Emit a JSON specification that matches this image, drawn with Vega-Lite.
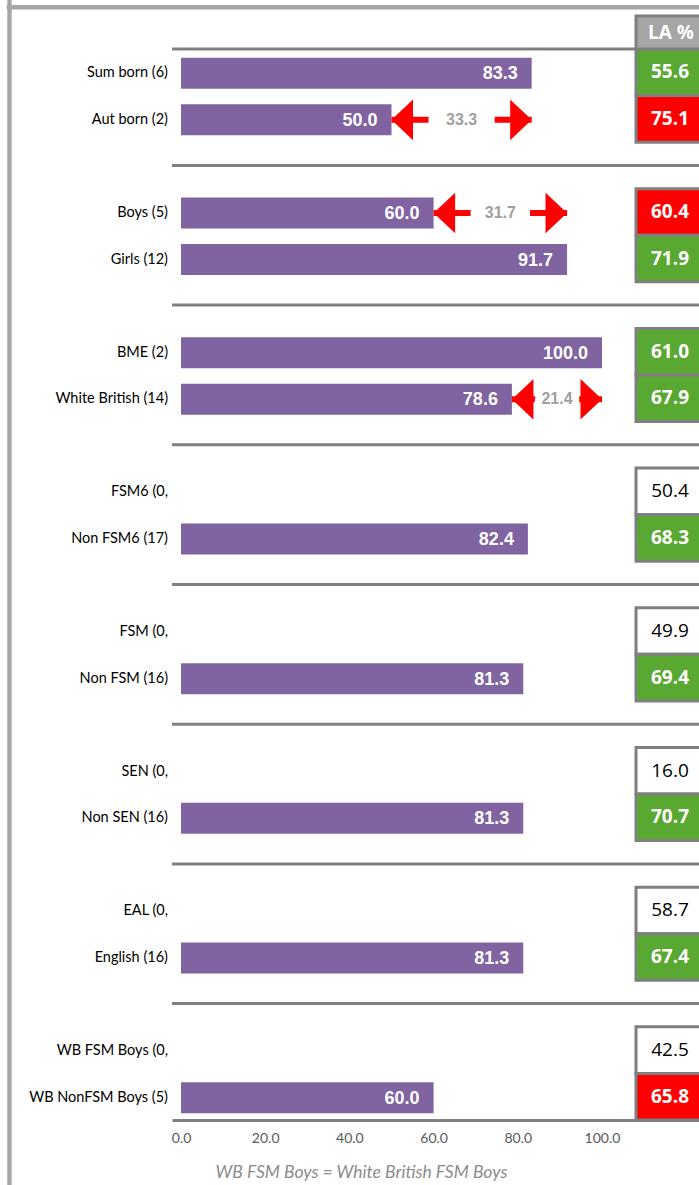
{
"$schema":"https://vega.github.io/schema/vega-lite/v6.json",
"width":527,"height":1071,
"autosize":{"type":"none"},
"padding":{"left":172,"top":49,"right":0,"bottom":65},
"background":"white",
"config":{"view":{"stroke":null},"axis":{"grid":false}},
"resolve":{"axis":{"x":"independent","y":"independent"}},
"datasets":{
"rows":[
{"pos":1,"label":"Sum born (6)","value":83.3,"la":55.6,"vsLA":"above"},
{"pos":2,"label":"Aut born (2)","value":50.0,"la":75.1,"vsLA":"below","gap":33.3,"target":83.3},
{"pos":4,"label":"Boys (5)","value":60.0,"la":60.4,"vsLA":"below","gap":31.7,"target":91.7},
{"pos":5,"label":"Girls (12)","value":91.7,"la":71.9,"vsLA":"above"},
{"pos":7,"label":"BME (2)","value":100.0,"la":61.0,"vsLA":"above"},
{"pos":8,"label":"White British (14)","value":78.6,"la":67.9,"vsLA":"above","gap":21.4,"target":100.0},
{"pos":10,"label":"FSM6 (0,","value":null,"la":50.4,"vsLA":"none"},
{"pos":11,"label":"Non FSM6 (17)","value":82.4,"la":68.3,"vsLA":"above"},
{"pos":13,"label":"FSM (0,","value":null,"la":49.9,"vsLA":"none"},
{"pos":14,"label":"Non FSM (16)","value":81.3,"la":69.4,"vsLA":"above"},
{"pos":16,"label":"SEN (0,","value":null,"la":16.0,"vsLA":"none"},
{"pos":17,"label":"Non SEN (16)","value":81.3,"la":70.7,"vsLA":"above"},
{"pos":19,"label":"EAL (0,","value":null,"la":58.7,"vsLA":"none"},
{"pos":20,"label":"English (16)","value":81.3,"la":67.4,"vsLA":"above"},
{"pos":22,"label":"WB FSM Boys (0,","value":null,"la":42.5,"vsLA":"none"},
{"pos":23,"label":"WB NonFSM Boys (5)","value":60.0,"la":65.8,"vsLA":"below"}
],
"seps":[{"pos":3},{"pos":6},{"pos":9},{"pos":12},{"pos":15},{"pos":18},{"pos":21}],
"one":[{"head":"LA %"}]
},
"data":{"name":"rows"},
"layer":[
{"data":{"name":"one"},"mark":{"type":"rule","color":"#a6a6a6","strokeWidth":4.4},
 "encoding":{"x":{"datum":-40.74,"type":"quantitative","axis":null},"y":{"datum":-0.6,"type":"quantitative","axis":null},"y2":{"datum":25}}},
{"data":{"name":"one"},"mark":{"type":"rule","color":"#a6a6a6","strokeWidth":4.4},
 "encoding":{"x":{"datum":-41.4,"type":"quantitative","axis":null},"x2":{"datum":125},"y":{"datum":-0.395,"type":"quantitative","axis":null}}},
{"data":{"name":"one"},"mark":{"type":"rule","color":"#808080","strokeWidth":3},
 "encoding":{"y":{"datum":0.5,"type":"quantitative","axis":null}}},
{"data":{"name":"seps"},"mark":{"type":"rule","color":"#808080","strokeWidth":3},
 "encoding":{"y":{"field":"pos","type":"quantitative","axis":null}}},
{"transform":[{"filter":"isValid(datum.value)"}],
 "mark":{"type":"bar","orient":"horizontal","height":31,"color":"#8064a2","yOffset":1},
 "encoding":{
  "x":{"field":"value","type":"quantitative",
   "scale":{"domain":[-2.138,123.04],"nice":false,"zero":false,"padding":0},
   "axis":{"values":[0,20,40,60,80,100],"format":".1f","domainColor":"#808080","domainWidth":3,"ticks":false,
    "labelFont":"Lato","labelFontSize":14,"labelColor":"#595959","labelPadding":11,
    "title":"WB FSM Boys = White British FSM Boys","titleFont":"Lato","titleFontSize":17.5,"titleFontStyle":"italic","titleFontWeight":"normal",
    "titleColor":"#8c8c8c","titleX":189,"titleY":52,"titleAlign":"center","titleBaseline":"middle"}},
  "y":{"field":"pos","type":"quantitative","scale":{"domain":[0.5,23.5],"reverse":true,"nice":false,"zero":false,"padding":0},"axis":null}
 }},
{"transform":[{"filter":"isValid(datum.value)"}],
 "mark":{"type":"text","align":"right","baseline":"middle","dx":-14,"dy":2,"font":"Liberation Sans","fontSize":18,"fontWeight":"bold","color":"white"},
 "encoding":{"x":{"field":"value","type":"quantitative","axis":null},"y":{"field":"pos","type":"quantitative","axis":null},"text":{"field":"value","format":".1f"}}},
{"mark":{"type":"text","align":"right","baseline":"middle","dx":-13,"dy":1,"font":"Lato","fontSize":14.5,"color":"#000000"},
 "encoding":{"x":{"datum":0,"type":"quantitative","axis":null},"y":{"field":"pos","type":"quantitative","axis":null},"text":{"field":"label"}}},
{"mark":{"type":"bar","orient":"horizontal","height":46.565,"stroke":"#7f7f7f","strokeWidth":3},
 "encoding":{"x":{"datum":108.08,"type":"quantitative","axis":null},"x2":{"datum":124},"y":{"field":"pos","type":"quantitative","axis":null},
  "fill":{"field":"vsLA","type":"nominal","scale":{"domain":["above","below","none"],"range":["#59a832","#ff0000","#ffffff"]},"legend":null}}},
{"transform":[{"filter":"datum.vsLA !== 'none'"}],
 "mark":{"type":"text","align":"center","baseline":"middle","font":"Open Sans","fontSize":19,"fontWeight":"bold","color":"white"},
 "encoding":{"x":{"datum":116.15,"type":"quantitative","axis":null},"y":{"field":"pos","type":"quantitative","axis":null},"text":{"field":"la","format":".1f"}}},
{"transform":[{"filter":"datum.vsLA === 'none'"}],
 "mark":{"type":"text","align":"center","baseline":"middle","font":"Open Sans","fontSize":19,"color":"black"},
 "encoding":{"x":{"datum":116.15,"type":"quantitative","axis":null},"y":{"field":"pos","type":"quantitative","axis":null},"text":{"field":"la","format":".1f"}}},
{"data":{"name":"one"},"mark":{"type":"rect","fill":"#a6a6a6","stroke":"#7f7f7f","strokeWidth":3},
 "encoding":{"x":{"datum":108.08,"type":"quantitative","axis":null},"x2":{"datum":124},"y":{"datum":-0.2087,"type":"quantitative","axis":null},"y2":{"datum":0.5}}},
{"data":{"name":"one"},"mark":{"type":"text","align":"center","baseline":"middle","font":"Open Sans","fontSize":19,"fontWeight":"bold","color":"white"},
 "encoding":{"x":{"datum":116.4,"type":"quantitative","axis":null},"y":{"datum":0.156,"type":"quantitative","axis":null},"text":{"field":"head"}}},
{"transform":[{"filter":"isValid(datum.gap)"}],
 "mark":{"type":"rule","color":"#ff0000","strokeWidth":6,"strokeDash":[37,4000],"yOffset":1},
 "encoding":{"x":{"field":"value","type":"quantitative","axis":null},"x2":{"field":"target"},"y":{"field":"pos","type":"quantitative","axis":null}}},
{"transform":[{"filter":"isValid(datum.gap)"}],
 "mark":{"type":"rule","color":"#ff0000","strokeWidth":6,"strokeDash":[37,4000],"yOffset":1},
 "encoding":{"x":{"field":"target","type":"quantitative","axis":null},"x2":{"field":"value"},"y":{"field":"pos","type":"quantitative","axis":null}}},
{"transform":[{"filter":"isValid(datum.gap)"},{"fold":["value","target"],"as":["end","endValue"]},
  {"aggregate":[{"op":"mean","field":"endValue","as":"mid"}],"groupby":["pos","gap"]}],
 "mark":{"type":"text","align":"center","baseline":"middle","dy":1,"font":"Liberation Sans","fontSize":16,"fontWeight":"bold","fill":"white","stroke":"white","strokeWidth":13},
 "encoding":{"x":{"field":"mid","type":"quantitative","axis":null},"y":{"field":"pos","type":"quantitative","axis":null},"text":{"field":"gap","format":".1f"}}},
{"transform":[{"filter":"isValid(datum.gap)"}],
 "mark":{"type":"point","shape":"M0,0L1.06,-1L1.06,1Z","size":1650,"filled":true,"color":"#ff0000","opacity":1,"strokeWidth":0,"yOffset":1},
 "encoding":{"x":{"field":"value","type":"quantitative","axis":null},"y":{"field":"pos","type":"quantitative","axis":null}}},
{"transform":[{"filter":"isValid(datum.gap)"}],
 "mark":{"type":"point","shape":"M0,0L-1.06,-1L-1.06,1Z","size":1650,"filled":true,"color":"#ff0000","opacity":1,"strokeWidth":0,"yOffset":1},
 "encoding":{"x":{"field":"target","type":"quantitative","axis":null},"y":{"field":"pos","type":"quantitative","axis":null}}},
{"transform":[{"filter":"isValid(datum.gap)"},{"fold":["value","target"],"as":["end","endValue"]},
  {"aggregate":[{"op":"mean","field":"endValue","as":"mid"}],"groupby":["pos","gap"]}],
 "mark":{"type":"text","align":"center","baseline":"middle","dy":1,"font":"Liberation Sans","fontSize":16,"fontWeight":"bold","color":"#a0a0a0"},
 "encoding":{"x":{"field":"mid","type":"quantitative","axis":null},"y":{"field":"pos","type":"quantitative","axis":null},"text":{"field":"gap","format":".1f"}}}
]
}
